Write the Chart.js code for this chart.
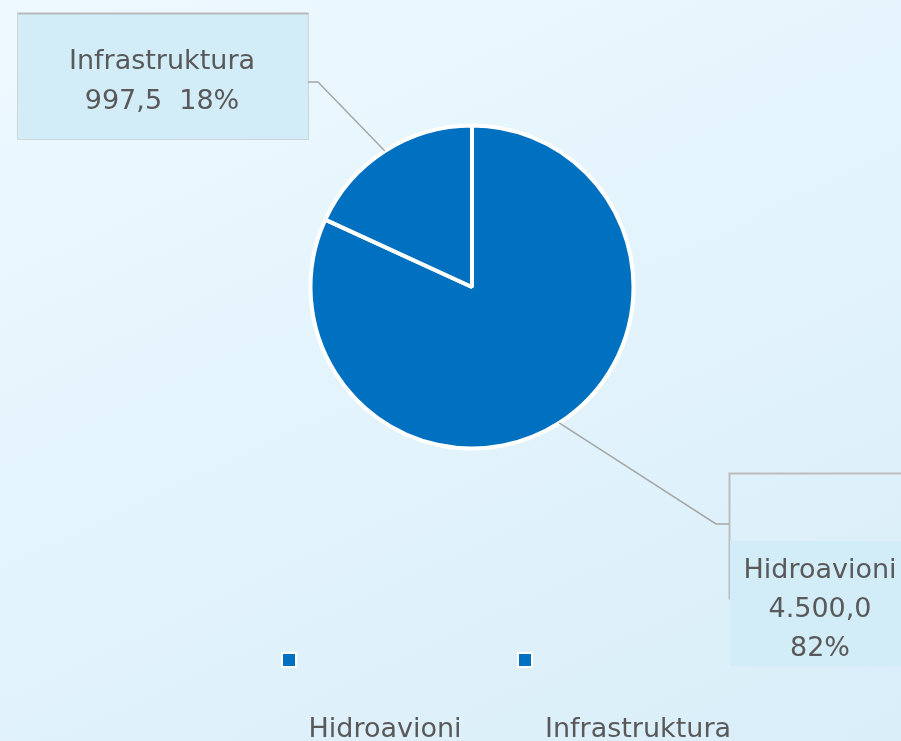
<!DOCTYPE html>
<html>
<head>
<meta charset="utf-8">
<script src="https://cdn.jsdelivr.net/npm/chart.js@4.4.0/dist/chart.umd.min.js"></script>
<style>
    html, body { margin: 0; padding: 0; }
    body {
        width: 901px;
        height: 741px;
        overflow: hidden;
        background: linear-gradient(155deg, #eef9ff 0%, #e4f4fc 45%, #d9eef9 100%);
    }
    #wrap { position: relative; width: 901px; height: 741px; }
</style>
</head>
<body>
<div id="wrap"><canvas id="pie-chart"></canvas></div>
<script>
const categories = ['Hidroavioni', 'Infrastruktura'];
const values = [4500.0, 997.5];
const sliceColors = ['#0070c0', '#0070c0'];

const textColor = '#595959';
const fontFamily = '"DejaVu Sans", sans-serif';

// 4500 -> "4.500,0"
const formatValue = (v) => {
    const [whole, dec] = v.toFixed(1).split('.');
    return whole.replace(/\B(?=(\d{3})+(?!\d))/g, '.') + ',' + dec;
}

const total = values.reduce((a, b) => a + b, 0);
const percent = (v) => Math.round(v / total * 100) + '%';

// where each callout box sits, same order as categories
const callouts = [
    {
        frame: [729.5, 473.5, 240, 125],
        fill: [730, 541, 171, 125],
        elbow: [716, 524],
        end: [729, 524],
        textX: 820,
        baselines: [578, 617, 656],
        lines: (i) => [categories[i], formatValue(values[i]), percent(values[i])],
    },
    {
        frame: null,
        fill: [17.5, 13.5, 291, 126],
        elbow: [318, 82],
        end: [308, 82],
        textX: 162,
        baselines: [69, 109],
        lines: (i) => [categories[i], formatValue(values[i]) + '  ' + percent(values[i])],
    },
];

const calloutPlugin = {
    id: 'callouts',
    afterDatasetsDraw(chart) {
        const ctx = chart.ctx;
        const meta = chart.getDatasetMeta(0);
        ctx.save();
        meta.data.forEach((arc, i) => {
            const c = callouts[i];
            const mid = (arc.startAngle + arc.endAngle) / 2;
            const px = arc.x + Math.cos(mid) * arc.outerRadius;
            const py = arc.y + Math.sin(mid) * arc.outerRadius;

            if (c.frame) {
                ctx.strokeStyle = '#bdbdbd';
                ctx.lineWidth = 2;
                ctx.strokeRect(...c.frame);
            }
            ctx.fillStyle = '#d2ecf8';
            ctx.fillRect(...c.fill);
            if (!c.frame) {
                ctx.strokeStyle = '#cfd6da';
                ctx.lineWidth = 1;
                ctx.strokeRect(...c.fill);
                ctx.strokeStyle = '#b9b9b9';
                ctx.lineWidth = 2;
                ctx.beginPath();
                ctx.moveTo(c.fill[0], c.fill[1]);
                ctx.lineTo(c.fill[0] + c.fill[2], c.fill[1]);
                ctx.stroke();
            }

            ctx.strokeStyle = '#a6a6a6';
            ctx.lineWidth = 1.5;
            ctx.beginPath();
            ctx.moveTo(px, py);
            ctx.lineTo(...c.elbow);
            ctx.lineTo(...c.end);
            ctx.stroke();

            ctx.fillStyle = textColor;
            ctx.font = `27px ${fontFamily}`;
            ctx.textAlign = 'center';
            ctx.textBaseline = 'alphabetic';
            c.lines(i).forEach((t, k) => ctx.fillText(t, c.textX, c.baselines[k]));
        });
        ctx.restore();
    }
};

// legend: small squares on one row, names on the row below
const legendPlugin = {
    id: 'bottomLegend',
    afterDraw(chart) {
        const ctx = chart.ctx;
        const squareX = [281, 517];
        const labelX = [385, 638];
        ctx.save();
        chart.data.labels.forEach((label, i) => {
            ctx.fillStyle = '#ffffff';
            ctx.fillRect(squareX[i], 652, 16, 16);
            ctx.fillStyle = chart.data.datasets[0].backgroundColor[i];
            ctx.fillRect(squareX[i] + 2, 654, 12, 12);

            ctx.fillStyle = textColor;
            ctx.font = `27px ${fontFamily}`;
            ctx.textAlign = 'center';
            ctx.textBaseline = 'alphabetic';
            ctx.fillText(label, labelX[i], 737);
        });
        ctx.restore();
    }
};

const chart = new Chart(document.getElementById('pie-chart'), {
    type: 'pie',
    data: {
        labels: categories,
        datasets: [{
            data: values,
            backgroundColor: sliceColors,
            borderColor: '#ffffff',
            borderWidth: 4,
            hoverBorderWidth: 4,
        }],
    },
    options: {
        responsive: true,
        maintainAspectRatio: false,
        animation: false,
        events: [],
        layout: {
            padding: { left: 308.5, right: 265.5, top: 123.5, bottom: 290.5 }
        },
        plugins: {
            legend: { display: false },
            tooltip: { enabled: false },
        },
    },
    plugins: [calloutPlugin, legendPlugin],
});
</script>
</body>
</html>
